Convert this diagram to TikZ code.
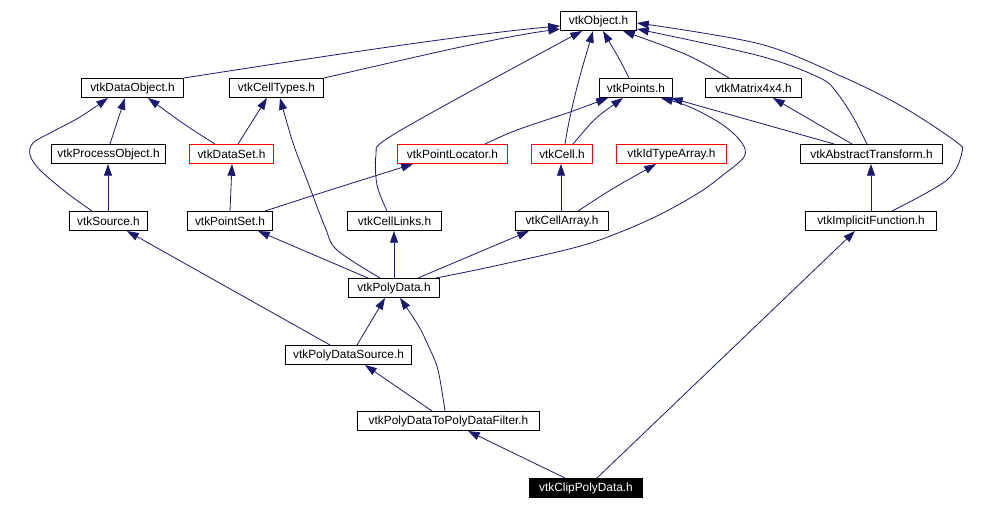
\documentclass[tikz,border=0pt]{standalone}
\usepackage{fontspec}
\setmainfont{Liberation Sans}
\usetikzlibrary{arrows.meta}
\definecolor{edgeblue}{HTML}{191970}
\definecolor{boxred}{HTML}{FF0000}
\begin{document}
\begin{tikzpicture}[x=0.75pt,y=-0.75pt,
  hbox/.style={draw=black,line width=0.75pt,fill=white,anchor=north west,inner sep=0pt,
    minimum height=14.25pt,font=\fontsize{8.9pt}{10pt}\selectfont,text=black},
  rbox/.style={hbox,draw=boxred},
  kbox/.style={hbox,fill=black,text=white},
  edge/.style={draw=edgeblue,line width=0.6pt,-{Triangle[length=8.8pt,width=6pt]},fill=none},
  sm/.style={smooth,tension=0.55}]
\useasboundingbox (0,0) rectangle (994,509);
\fill[white] (0,0) rectangle (994,509);
% nodes
\node[hbox,minimum width=57pt] (obj) at (560,11) {vtkObject.h};
\node[hbox,minimum width=76.5pt] (dobj) at (81,78) {vtkDataObject.h};
\node[hbox,minimum width=70.5pt] (ctyp) at (229,78) {vtkCellTypes.h};
\node[hbox,minimum width=54.75pt] (pts) at (599,78) {vtkPoints.h};
\node[hbox,minimum width=72pt] (mat) at (705,78) {vtkMatrix4x4.h};
\node[hbox,minimum width=85.5pt] (proc) at (51,144) {vtkProcessObject.h};
\node[rbox,minimum width=63pt] (dset) at (189,144) {vtkDataSet.h};
\node[rbox,minimum width=82.5pt] (ploc) at (397,144) {vtkPointLocator.h};
\node[rbox,minimum width=45.75pt] (cell) at (531,144) {vtkCell.h};
\node[rbox,minimum width=82.5pt] (idta) at (616,144) {vtkIdTypeArray.h};
\node[hbox,minimum width=106.5pt] (atr) at (800,144) {vtkAbstractTransform.h};
\node[hbox,minimum width=58.5pt] (src) at (69,211) {vtkSource.h};
\node[hbox,minimum width=63.75pt] (pset) at (187,211) {vtkPointSet.h};
\node[hbox,minimum width=70.5pt] (clinks) at (347,211) {vtkCellLinks.h};
\node[hbox,minimum width=69.75pt] (carr) at (515,211) {vtkCellArray.h};
\node[hbox,minimum width=98.25pt] (ifun) at (805,211) {vtkImplicitFunction.h};
\node[hbox,minimum width=68.25pt] (pdata) at (348,278) {vtkPolyData.h};
\node[hbox,minimum width=94.5pt] (pds) at (285,345) {vtkPolyDataSource.h};
\node[hbox,minimum width=136.5pt] (filt) at (357,411) {vtkPolyDataToPolyDataFilter.h};
\node[kbox,minimum width=84.75pt] (clip) at (529,478) {vtkClipPolyData.h};
% edges to vtkObject
\draw[edge] (dobj.north east) .. controls (350,52) and (480,33) .. (obj.west |- 0,26);
\draw[edge] (ctyp.north east) .. controls (420,56) and (500,37) .. (obj.west |- 0,29);
\draw[edge] plot[sm] coordinates {(clinks.north -| 387,0) (377,185) (376,155) (385,140) (460,97) (obj.south -| 582,0)};
\draw[edge] (cell.north -| 565,0) .. controls (572,100) and (584,62) .. (obj.south -| 593,0);
\draw[edge] (pts.north -| 629,0) .. controls (620,60) .. (obj.south -| 603,0);
\draw[edge] (mat.north -| 729,0) .. controls (690,55) .. (obj.south -| 623,0);
\draw[edge] plot[sm] coordinates {(atr.north -| 867,0) (853,117) (837,93) (820,78) (760,56) (obj.east |- 0,29)};
\draw[edge] plot[sm] coordinates {(ifun.north -| 892,0) (947,180) (962,152) (955,141) (903,107) (843,77) (760,44) (obj.east |- 0,23)};
% edges to vtkDataObject
\draw[edge] (proc.north -| 110,0) -- (dobj.south -| 125,0);
\draw[edge] plot[sm] coordinates {(src.north -| 92,0) (67,193) (40,170) (30,155) (33,143) (50,133) (80,117) (dobj.south -| 108,0)};
\draw[edge] (dset.north -| 215,0) .. controls (185,125) .. (dobj.south -| 148,0);
% edges to vtkCellTypes
\draw[edge] (dset.north -| 238,0) -- (ctyp.south -| 267,0);
\draw[edge] plot[sm] coordinates {(pdata.north -| 380,0) (337,250) (325,227) (307,180) (293,143) (ctyp.south -| 280,0)};
% level 3
\draw[edge] (src.north -| 108,0) -- (proc.south -| 108,0);
\draw[edge] (pset.north -| 230,0) -- (dset.south -| 232,0);
\draw[edge] (pset.north -| 265,0) .. controls (330,190) .. (ploc.south -| 413,0);
\draw[edge] plot[sm] coordinates {(ploc.north -| 485,0) (517,130) (570,112) (pts.south -| 608,0)};
\draw[edge] (cell.north -| 573,0) .. controls (595,118) .. (pts.south -| 623,0);
\draw[edge] (atr.north -| 834,0) -- (pts.south -| 671,0);
\draw[edge] plot[sm] coordinates {(pdata.north -| 436,0) (490,267) (577,247) (623,231) (663,213) (700,192) (723,175) (744,157) (742,143) (723,125) (690,107) (pts.south -| 661,0)};
\draw[edge] (atr.north -| 852,0) -- (mat.south -| 773,0);
\draw[edge] (carr.north -| 561,0) -- (cell.south -| 561,0);
\draw[edge] (carr.north -| 578,0) .. controls (610,190) .. (idta.south -| 656,0);
\draw[edge] (ifun.north -| 871,0) -- (atr.south -| 871,0);
% vtkPolyData
\draw[edge] (pdata.north -| 368,0) -- (pset.south -| 258,0);
\draw[edge] (pdata.north -| 394,0) -- (clinks.south -| 394,0);
\draw[edge] (pdata.north -| 418,0) -- (carr.south -| 529,0);
% lower
\draw[edge] (pds.north -| 330,0) -- (src.south -| 127,0);
\draw[edge] (pds.north -| 357,0) -- (pdata.south -| 385,0);
\draw[edge] plot[sm] coordinates {(filt.north -| 445,0) (438,370) (428,345) (418,325) (pdata.south -| 400,0)};
\draw[edge] (filt.north -| 432,0) -- (pds.south -| 365,0);
\draw[edge] (clip.north -| 565,0) -- (filt.south -| 468,0);
\draw[edge] (clip.north -| 597,0) -- (ifun.south -| 855,0);
\end{tikzpicture}
\end{document}
